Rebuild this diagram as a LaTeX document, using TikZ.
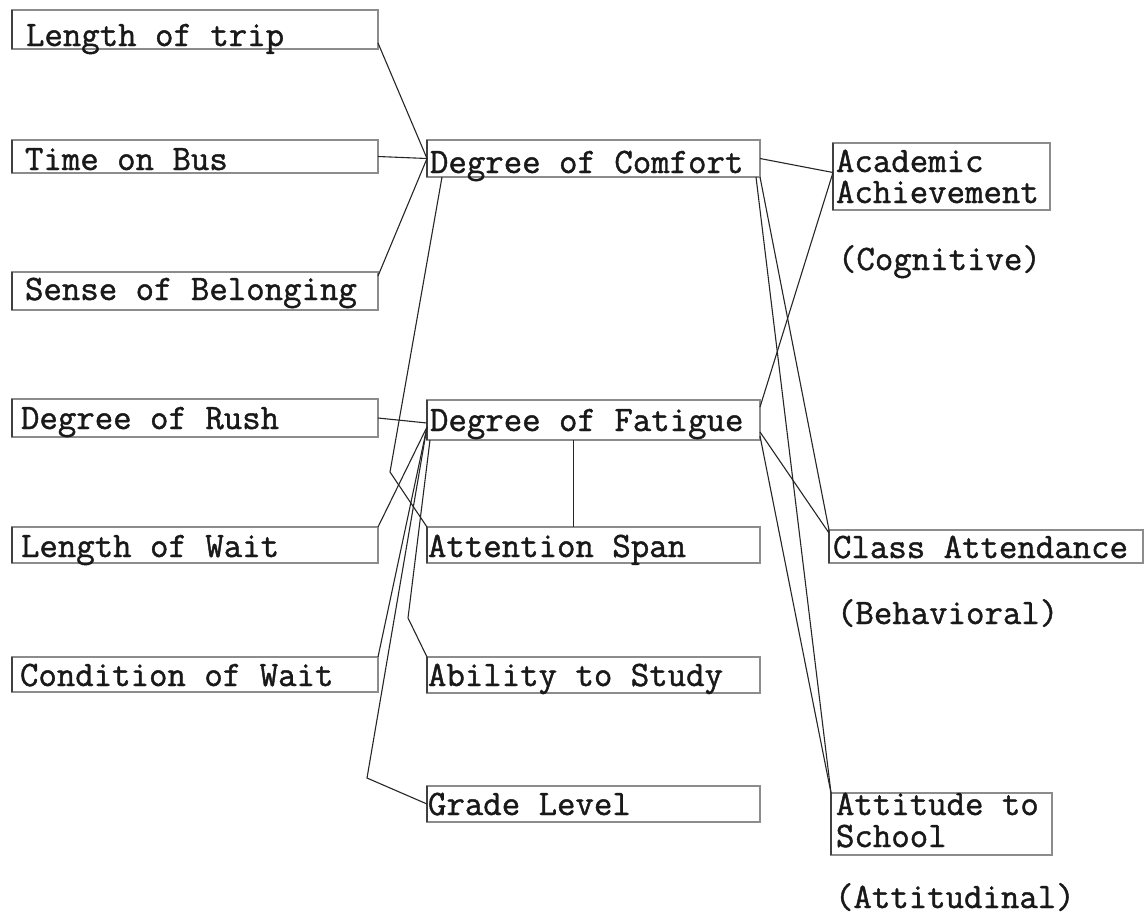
\documentclass[tikz,border=0pt]{standalone}
\usepackage{fontspec}
\usetikzlibrary{fit,calc}
\newfontfamily\typewriter{Latin Modern Mono}[FakeBold=1.2]
\newcommand\labfont{\typewriter\fontsize{35.8pt}{32pt}\selectfont}
% two stacked lines, the first line's baseline being the box's baseline
\newcommand\twolines[3]{\vtop{\baselineskip=#3\hbox{#1}\hbox{#2}}}
\tikzset{
  box/.style={draw=black!45, line width=1.3pt, inner sep=0pt, outer sep=0pt},
  txt/.style={inner sep=0pt, outer sep=0pt, anchor=base west, font=\labfont, text=black!90},
  link/.style={draw=black!85, line width=1.1pt},
  edge/.style={draw=black!75, line width=1.4pt}
}
\begin{document}
\begin{tikzpicture}[x=1pt, y=-1pt]
\useasboundingbox (0,0) rectangle (1147,919);

% left column: trip characteristics
\node[box, fit={(12,10) (378,49)}]   (trip)   {};
\node[box, fit={(12,140) (378,173)}] (bus)    {};
\node[box, fit={(12,272) (378,310)}] (belong) {};
\node[box, fit={(12,399) (378,437)}] (rush)   {};
\node[box, fit={(12,527) (378,563)}] (wait)   {};
\node[box, fit={(12,657) (378,692)}] (cond)   {};

\node[txt] (trip-t)   at (26,46)  {Length of trip};
\node[txt] (bus-t)    at (25,170) {Time on Bus};
\node[txt] (belong-t) at (25,300) {Sense of Belonging};
\node[txt] (rush-t)   at (21,429) {Degree of Rush};
\node[txt] (wait-t)   at (21,557) {Length of Wait};
\node[txt] (cond-t)   at (20,686) {Condition of Wait};

% middle column: intervening variables
\node[box, fit={(427,140) (760,177)}] (comfort)   {};
\node[box, fit={(427,400) (760,440)}] (fatigue)   {};
\node[box, fit={(427,527) (760,563)}] (attention) {};
\node[box, fit={(427,657) (760,693)}] (ability)   {};
\node[box, fit={(427,786) (760,822)}] (grade)     {};

\node[txt] (comfort-t)   at (430,173) {Degree of Comfort};
\node[txt] (fatigue-t)   at (430,431) {Degree of Fatigue};
\node[txt] (attention-t) at (428,557) {Attention Span};
\node[txt] (ability-t)   at (428,686) {Ability to Study};
\node[txt] (grade-t)     at (428,815) {Grade Level};

% right column: outcomes
\node[box, fit={(833,143) (1050,210)}]  (academic) {};
\node[box, fit={(829,530) (1143,563)}]  (class)    {};
\node[box, fit={(831,793) (1052,855)}]  (attitude) {};

\node[txt] (academic-t) at (836,172) {\twolines{Academic}{Achievement}{31pt}};
\node[txt] (class-t)    at (833,558) {Class Attendance};
\node[txt] (attitude-t) at (836,815) {\twolines{Attitude to}{School}{32pt}};

\node[txt] (cognitive)   at (838,270) {(Cognitive)};
\node[txt] (behavioral)  at (837,624) {(Behavioral)};
\node[txt] (attitudinal) at (835,908) {(Attitudinal)};

% darker left edges of the boxes
\foreach \b in {trip,bus,belong,rush,wait,cond,comfort,fatigue,attention,ability,grade,academic,class,attitude}
  \draw[edge] (\b.north west) -- (\b.south west);

% bend points
\coordinate (b1) at (390,472);
\coordinate (b2) at (408,618);
\coordinate (b3) at (367,778);
\coordinate (fl) at ([yshift=-7pt]fatigue.west);
\coordinate (al) at ([yshift=4pt]academic.west);
\coordinate (fa) at ($(fatigue.south west)!0.44!(fatigue.south east)$);

% into Degree of Comfort
\draw[link] ([yshift=6pt]trip.south east) -- (comfort.west);
\draw[link] (bus.east) -- (comfort.west);
\draw[link] ([yshift=-4pt]belong.north east) -- (comfort.west);
\draw[link] ([xshift=15pt]comfort.south west) -- (b1) -- (attention.north west);

% into Degree of Fatigue
\draw[link] (rush.east) -- ([yshift=-3pt]fatigue.west);
\draw[link] (wait.north east) -- (fl);
\draw[link] (cond.north east) -- (fl);
\draw[link] (fl) -- (b3) -- (grade.west);
\draw[link] ([xshift=3pt]fatigue.south west) -- (b2) -- (ability.north west);
\draw[link] (fa) -- (fa |- attention.north);

% outcomes
\draw[link] (comfort.east) -- (al);
\draw[link] ([yshift=-7pt]fatigue.north east) -- (al);
\draw[link] (comfort.south east) -- (class.north west);
\draw[link] ([xshift=-4pt]comfort.south east) -- (attitude.north west);
\draw[link] ([yshift=-12pt]fatigue.east) -- ([yshift=-3pt]class.north west);
\draw[link] ([yshift=-16pt]fatigue.east) -- (attitude.north west);
\end{tikzpicture}
\end{document}
